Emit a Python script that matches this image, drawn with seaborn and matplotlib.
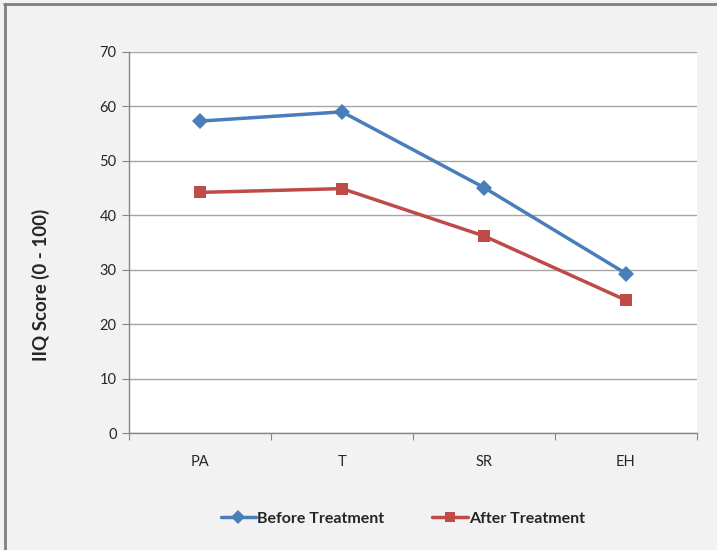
import pandas as pd
import matplotlib
matplotlib.use("Agg")
import matplotlib.pyplot as plt
import seaborn as sns
from matplotlib.lines import Line2D

categories = ["PA", "T", "SR", "EH"]
before = [57.3, 59.0, 45.1, 29.3]
after = [44.2, 44.9, 36.2, 24.4]
series_names = ["Before Treatment", "After Treatment"]
colors = ["#4A7EBB", "#BE4B48"]
markers = ["D", "s"]

df = pd.DataFrame({
    "cat": categories * 2,
    "x": list(range(len(categories))) * 2,
    "score": before + after,
    "series": [series_names[0]] * 4 + [series_names[1]] * 4,
})

sns.set_style("white")
plt.rcParams["font.family"] = ["Lato", "DejaVu Sans"]

fig = plt.figure(figsize=(7.17, 5.5), dpi=100)
fig.patch.set_facecolor("#F2F2F2")
ax = fig.add_axes([0.18, 0.2127, 0.792, 0.6928])
ax.set_facecolor("white")

sns.lineplot(data=df, x="x", y="score", hue="series", style="series",
             markers=dict(zip(series_names, markers)), dashes=False,
             palette=dict(zip(series_names, colors)), linewidth=2.5,
             markersize=8, markeredgewidth=0, ax=ax, legend=False)

ax.set_xlim(-0.5, 3.5)
ax.set_ylim(0, 70)
ax.set_yticks(range(0, 71, 10))
ax.yaxis.grid(True, color="#A6A6A6", linewidth=1)
ax.set_axisbelow(True)
ax.set_xticks([-0.5, 0.5, 1.5, 2.5, 3.5])
ax.set_xticklabels([])
ax.set_xticks(range(4), minor=True)
ax.set_xticklabels(categories, minor=True)
ax.tick_params(axis="x", which="major", length=5, direction="out",
               color="#868686", bottom=True)
ax.tick_params(axis="x", which="minor", length=0, pad=16, labelsize=10.5,
               labelcolor="#262626")
ax.tick_params(axis="y", length=5, direction="out", color="#868686",
               left=True, labelsize=10.5, labelcolor="#262626", pad=4)
for s in ["top", "right"]:
    ax.spines[s].set_visible(False)
for s in ["left", "bottom"]:
    ax.spines[s].set_color("#868686")
    ax.spines[s].set_linewidth(1)
ax.set_xlabel("")
ax.set_ylabel("IIQ Score (0 - 100)", fontsize=13.5, fontweight="bold")
ax.yaxis.set_label_coords(-0.139, 0.39)

handles = [Line2D([], [], color=c, marker=m, linewidth=2.5, markersize=7,
                  markeredgewidth=0) for c, m in zip(colors, markers)]
fig.legend(handles, series_names, loc="center", bbox_to_anchor=(0.562, 0.057),
           ncol=2, frameon=False, prop={"weight": "bold", "size": 11.5},
           handlelength=2.2, handletextpad=0.1, columnspacing=3)

fig.add_artist(Line2D([0.007, 0.007], [0, 0.993], transform=fig.transFigure,
                      color="#7F7F7F", linewidth=2))
fig.add_artist(Line2D([0.006, 1], [0.993, 0.993], transform=fig.transFigure,
                      color="#7F7F7F", linewidth=2))

fig.savefig("out.png", dpi=100, facecolor=fig.get_facecolor())
